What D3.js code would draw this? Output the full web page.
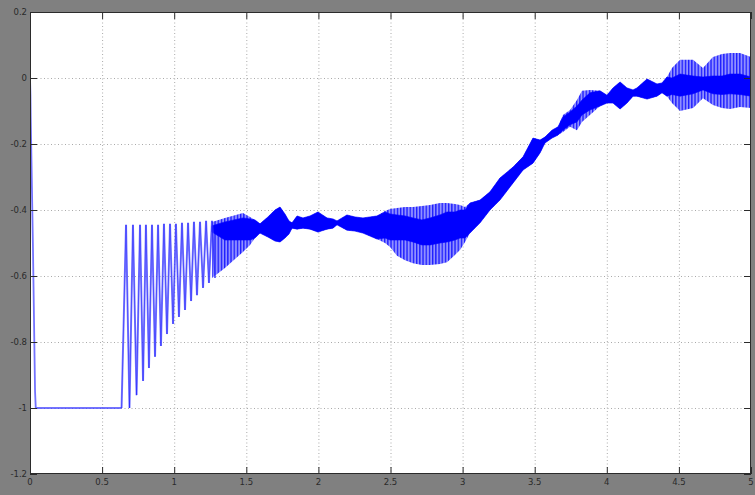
<!DOCTYPE html>
<html><head><meta charset="utf-8">
<script src="https://cdn.jsdelivr.net/npm/d3@7"></script>
<style>body{margin:0;background:#808080;}svg{display:block;}</style>
</head><body><svg id="c" width="755" height="495"></svg>
<script>
// ---- data ----
const xTicks = [0,0.5,1,1.5,2,2.5,3,3.5,4,4.5,5];
const xTickLabels = ["0","0.5","1","1.5","2","2.5","3","3.5","4","4.5","5"];
const yTicks = [-1.2,-1,-0.8,-0.6,-0.4,-0.2,0,0.2];
const yTickLabels = ["-1.2","-1","-0.8","-0.6","-0.4","-0.2","0","0.2"];

// initial transient and saturated flat part
const startT = [0, 0.003, 0.005, 0.02, 0.035, 0.04, 0.635];
const startV = [0, -0.05, -0.12, -0.5, -0.95, -1.0, -1.0];

// discrete oscillation cycles (alternating peaks / troughs)
const cycT = [0.635,0.666,0.690,0.714,0.739,0.763,0.784,0.804,0.825,0.846,0.867,0.888,0.908,0.929,0.950,0.971,0.992,1.012,1.033,1.054,1.075,1.096,1.117,1.137,1.158,1.179,1.200,1.221,1.241,1.262,1.283];
const cycV = [-1.0,-0.445,-1.0,-0.445,-0.961,-0.445,-0.918,-0.445,-0.879,-0.445,-0.845,-0.445,-0.812,-0.442,-0.776,-0.442,-0.745,-0.442,-0.724,-0.439,-0.703,-0.439,-0.676,-0.436,-0.658,-0.436,-0.636,-0.433,-0.621,-0.433,-0.606];

// dense oscillation: outer envelope and dark core
const bandT = [1.262,1.352,1.477,1.526,1.560,1.595,1.650,1.699,1.734,1.768,1.796,1.817,1.852,1.893,1.942,1.997,2.060,2.101,2.129,2.198,2.254,2.309,2.358,2.406,2.462,2.497,2.545,2.601,2.656,2.718,2.774,2.843,2.892,2.947,2.982,3.017,3.051,3.121,3.190,3.259,3.350,3.419,3.488,3.537,3.571,3.620,3.662,3.696,3.745,3.793,3.828,3.883,3.953,4.001,4.043,4.092,4.140,4.182,4.209,4.279,4.348,4.383,4.417,4.452,4.508,4.598,4.667,4.736,4.799,4.854,4.924,5.000];
const bandHi = [-0.436,-0.424,-0.409,-0.421,-0.430,-0.442,-0.421,-0.400,-0.391,-0.412,-0.433,-0.439,-0.418,-0.424,-0.418,-0.406,-0.424,-0.427,-0.433,-0.415,-0.421,-0.424,-0.421,-0.418,-0.403,-0.397,-0.394,-0.391,-0.391,-0.388,-0.385,-0.379,-0.379,-0.382,-0.385,-0.391,-0.379,-0.370,-0.345,-0.303,-0.270,-0.239,-0.182,-0.188,-0.179,-0.158,-0.148,-0.112,-0.097,-0.067,-0.039,-0.036,-0.039,-0.052,-0.030,-0.012,-0.030,-0.036,-0.030,-0.003,-0.018,-0.015,0.003,0.030,0.055,0.055,0.030,0.064,0.073,0.076,0.076,0.064];
const bandLo = [-0.606,-0.576,-0.527,-0.506,-0.485,-0.470,-0.482,-0.494,-0.497,-0.485,-0.473,-0.455,-0.458,-0.455,-0.458,-0.467,-0.458,-0.455,-0.445,-0.461,-0.464,-0.470,-0.479,-0.488,-0.500,-0.512,-0.539,-0.552,-0.561,-0.567,-0.567,-0.564,-0.558,-0.536,-0.521,-0.497,-0.470,-0.439,-0.400,-0.370,-0.318,-0.279,-0.258,-0.227,-0.197,-0.182,-0.173,-0.164,-0.148,-0.158,-0.133,-0.112,-0.085,-0.076,-0.076,-0.094,-0.076,-0.055,-0.055,-0.064,-0.055,-0.045,-0.055,-0.076,-0.100,-0.091,-0.061,-0.082,-0.091,-0.094,-0.088,-0.091];
const coreHi = [-0.448,-0.436,-0.424,-0.427,-0.430,-0.442,-0.421,-0.400,-0.391,-0.412,-0.433,-0.439,-0.418,-0.424,-0.418,-0.406,-0.424,-0.427,-0.433,-0.415,-0.421,-0.424,-0.421,-0.418,-0.406,-0.412,-0.415,-0.418,-0.424,-0.430,-0.424,-0.415,-0.406,-0.406,-0.400,-0.400,-0.379,-0.370,-0.345,-0.303,-0.270,-0.239,-0.182,-0.188,-0.179,-0.158,-0.148,-0.118,-0.103,-0.085,-0.067,-0.045,-0.039,-0.052,-0.030,-0.012,-0.030,-0.036,-0.030,-0.003,-0.018,-0.015,0.003,0.000,0.012,0.006,0.003,0.006,0.006,0.012,0.012,0.003];
const coreLo = [-0.467,-0.491,-0.491,-0.491,-0.485,-0.470,-0.482,-0.494,-0.497,-0.485,-0.473,-0.455,-0.458,-0.455,-0.458,-0.467,-0.458,-0.455,-0.445,-0.461,-0.464,-0.470,-0.479,-0.488,-0.485,-0.491,-0.491,-0.491,-0.497,-0.506,-0.506,-0.500,-0.497,-0.491,-0.485,-0.485,-0.470,-0.439,-0.400,-0.370,-0.318,-0.279,-0.258,-0.227,-0.197,-0.182,-0.173,-0.158,-0.142,-0.133,-0.112,-0.097,-0.085,-0.076,-0.076,-0.094,-0.076,-0.055,-0.055,-0.064,-0.055,-0.045,-0.055,-0.050,-0.055,-0.048,-0.036,-0.048,-0.050,-0.048,-0.050,-0.055];

// ---- drawing ----
const svg = d3.select("#c");
const L = 30, R = 751, T = 12, B = 474;
const x = d3.scaleLinear().domain([0,5]).range([L,R]);
const y = d3.scaleLinear().domain([-1.2,0.2]).range([B,T]);

const defs = svg.append("defs");
defs.append("clipPath").attr("id","clip").append("rect")
  .attr("x",L).attr("y",T).attr("width",R-L).attr("height",B-T);
const pat = defs.append("pattern").attr("id","hatch").attr("patternUnits","userSpaceOnUse")
  .attr("width",3.2).attr("height",10);
pat.append("rect").attr("width",3.2).attr("height",10).attr("fill","#9090ff");
pat.append("rect").attr("width",1.3).attr("height",10).attr("fill","#1a1aff");

svg.append("rect").attr("x",L).attr("y",T).attr("width",R-L).attr("height",B-T).attr("fill","#fff");

// grid
const grid = svg.append("g").attr("stroke","#aaaaaa").attr("stroke-width",1).attr("stroke-dasharray","1,2.5");
xTicks.slice(1,-1).forEach(t => grid.append("line").attr("x1",x(t)+0.5).attr("x2",x(t)+0.5).attr("y1",T).attr("y2",B));
yTicks.slice(1,-1).forEach(t => grid.append("line").attr("y1",y(t)+0.5).attr("y2",y(t)+0.5).attr("x1",L).attr("x2",R));

const plot = svg.append("g").attr("clip-path","url(#clip)");
const bandData = bandT.map((t,i)=>({t, hi:bandHi[i], lo:bandLo[i], ch:coreHi[i], cl:coreLo[i]}));
plot.append("path").datum(bandData)
  .attr("d", d3.area().x(d=>x(d.t)).y0(d=>y(d.lo)).y1(d=>y(d.hi)))
  .attr("fill","url(#hatch)");
plot.append("path").datum(bandData)
  .attr("d", d3.area().x(d=>x(d.t)).y0(d=>y(d.cl)).y1(d=>y(d.ch)))
  .attr("fill","#0000ff").attr("stroke","#0000ff").attr("stroke-width",1).attr("stroke-opacity",0.6);

const line = d3.line().x(d=>x(d[0])).y(d=>y(d[1]));
plot.append("path").datum(startT.map((t,i)=>[t,startV[i]]))
  .attr("d", line).attr("fill","none").attr("stroke","#4444ff").attr("stroke-width",1.8).attr("stroke-opacity",0.75);
plot.append("path").datum(cycT.map((t,i)=>[t,cycV[i]]))
  .attr("d", line).attr("fill","none").attr("stroke","#5050ff").attr("stroke-width",2).attr("stroke-opacity",0.7);
plot.append("path").datum(cycT.map((t,i)=>[t,cycV[i]]))
  .attr("d", line).attr("fill","none").attr("stroke","#0000ff").attr("stroke-width",0.6).attr("stroke-opacity",0.7);

// axes box with inward ticks (MATLAB style)
const ax = svg.append("g").attr("stroke","#2b2b2b").attr("stroke-width",1);
ax.append("rect").attr("x",L+0.5).attr("y",T+0.5).attr("width",R-L-1).attr("height",B-T-1).attr("fill","none");
xTicks.forEach(t => {
  ax.append("line").attr("x1",x(t)+0.5).attr("x2",x(t)+0.5).attr("y1",B).attr("y2",B-7);
  ax.append("line").attr("x1",x(t)+0.5).attr("x2",x(t)+0.5).attr("y1",T).attr("y2",T+7);
});
yTicks.forEach(t => {
  ax.append("line").attr("y1",y(t)+0.5).attr("y2",y(t)+0.5).attr("x1",L).attr("x2",L+7);
  ax.append("line").attr("y1",y(t)+0.5).attr("y2",y(t)+0.5).attr("x1",R).attr("x2",R-7);
});

const lab = svg.append("g").attr("font-family","DejaVu Sans, sans-serif").attr("font-size",8.5).attr("fill","#2a2a2a");
xTicks.forEach((t,i) => lab.append("text").attr("x",x(t)).attr("y",B+11).attr("text-anchor","middle").text(xTickLabels[i]));
yTicks.forEach((t,i) => lab.append("text").attr("x",L-3).attr("y",y(t)+3).attr("text-anchor","end").text(yTickLabels[i]));
</script></body></html>
